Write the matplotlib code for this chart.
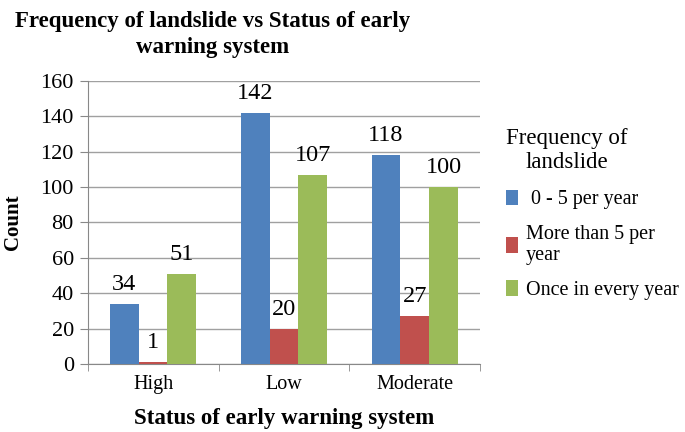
import numpy as np
import matplotlib.pyplot as plt

categories = ['High', 'Low', 'Moderate']
series_names = [' 0 - 5 per year', 'More than 5 per\nyear', 'Once in every year']
freq_0_5 = [34, 142, 118]
freq_more_5 = [1, 20, 27]
freq_once = [51, 107, 100]
colors = ['#4f81bd', '#c0504d', '#9bbb59']

plt.rcParams['font.family'] = ['Liberation Serif', 'DejaVu Serif']

fig = plt.figure(figsize=(6.85, 4.32), dpi=100)
ax = fig.add_axes([0.128, 0.157, 0.573, 0.656])

x = np.arange(len(categories))
w = 0.22
all_series = [freq_0_5, freq_more_5, freq_once]
for i, vals in enumerate(all_series):
    bars = ax.bar(x + (i - 1) * w, vals, w, color=colors[i], label=series_names[i], zorder=3)
    for b, v in zip(bars, vals):
        ax.annotate(str(v), (b.get_x() + b.get_width() / 2, v), xytext=(0, 14),
                    textcoords='offset pixels', ha='center', va='baseline',
                    fontsize=17.5, zorder=4)

ax.set_xlim(-0.5, 2.5)
ax.set_ylim(0, 160)
ax.set_yticks(np.arange(0, 161, 20))
ax.set_xticks(x)
ax.set_xticklabels(categories, fontsize=14.5)
ax.set_xticks([-0.5, 0.5, 1.5, 2.5], minor=True)
ax.tick_params(axis='x', which='major', length=0, pad=8)
ax.tick_params(axis='x', which='minor', length=5, color='#888888')
ax.tick_params(axis='y', labelsize=16, length=6, color='#888888', pad=4)
ax.grid(axis='y', color='#a0a0a0', linewidth=1, zorder=0)
for s in ['top', 'right']:
    ax.spines[s].set_visible(False)
for s in ['left', 'bottom']:
    ax.spines[s].set_color('#888888')

ax.set_xlabel('Status of early warning system', fontsize=16.5, fontweight='bold', labelpad=10)
ax.set_ylabel('Count', fontsize=15, fontweight='bold')
ax.yaxis.set_label_coords(-0.165, 0.5)
fig.text(0.311, 0.975, 'Frequency of landslide vs Status of early\nwarning system', ha='center',
         va='top', fontsize=16.5, fontweight='bold', linespacing=1.3)

leg = ax.legend(title='Frequency of\nlandslide', loc='center left', bbox_to_anchor=(1.04, 0.53),
                frameon=False, fontsize=14.5, title_fontsize=16.5, handlelength=0.6,
                handleheight=0.8, handletextpad=0.4, labelspacing=0.75, borderpad=0)
leg.get_title().set_multialignment('center')
leg._legend_box.align = 'left'
leg._legend_box.sep = 12

fig.savefig('out.png', dpi=100)
